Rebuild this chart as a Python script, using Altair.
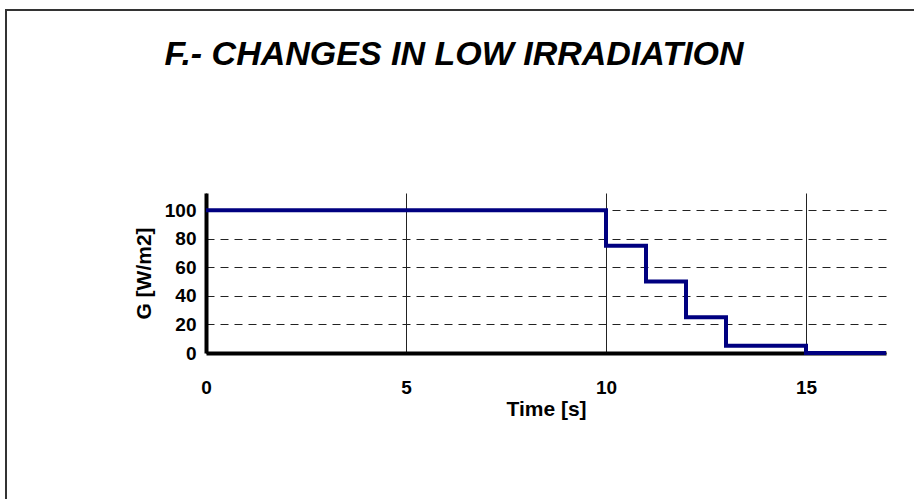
import altair as alt
import pandas as pd

# Step profile of irradiance
time_s = [0, 10, 11, 12, 13, 15, 17]
g_wm2 = [100, 75, 50, 25, 5, 0, 0]
x_ticks = [0, 5, 10, 15]
y_ticks = [0, 20, 40, 60, 80, 100]
title_text = ["F.- CHANGES IN LOW IRRADIATION"]

df = pd.DataFrame({"t": time_s, "g": g_wm2})
df_title = pd.DataFrame({"label": title_text})

FONT = "Liberation Sans"

line = alt.Chart(df).mark_line(
    interpolate="step-after", color="#000080", strokeWidth=4
).encode(
    x=alt.X("t:Q", scale=alt.Scale(domain=[0, 17], nice=False),
            axis=alt.Axis(values=x_ticks, title="Time [s]", format="d",
                          grid=True, gridColor="#222222", gridWidth=1,
                          domainColor="black", domainWidth=4, ticks=False,
                          labelPadding=25, titlePadding=1, labelFlush=False,
                          labelFontSize=19, labelFontWeight="bold",
                          titleFontSize=21, titleFontWeight="bold",
                          labelColor="black", titleColor="black",
                          labelFont=FONT, titleFont=FONT)),
    y=alt.Y("g:Q", scale=alt.Scale(domain=[0, 112], nice=False),
            axis=alt.Axis(values=y_ticks, title="G [W/m2]", format="d",
                          grid=True, gridColor="#222222", gridWidth=1,
                          gridDash=[8, 6],
                          domainColor="black", domainWidth=4, ticks=False,
                          labelPadding=10, titlePadding=10,
                          labelFontSize=19, labelFontWeight="bold",
                          titleFontSize=21, titleFontWeight="bold",
                          labelColor="black", titleColor="black",
                          labelFont=FONT, titleFont=FONT)),
)

title = alt.Chart(df_title).mark_text(
    font=FONT, fontSize=34, fontWeight="bold", fontStyle="italic",
    color="black", align="center", baseline="alphabetic"
).encode(
    text="label:N", x=alt.value(248), y=alt.value(-128)
)

border_left = alt.Chart(df).mark_rule(color="#333333", strokeWidth=2).encode(
    x=alt.value(-200), y=alt.value(-184), y2=alt.value(320)
)
border_top = alt.Chart(df).mark_rule(color="#333333", strokeWidth=2).encode(
    x=alt.value(-201), x2=alt.value(720), y=alt.value(-183)
)

chart = alt.layer(line, title, border_left, border_top).properties(
    width=680,
    height=160,
    padding={"left": 206, "top": 193, "right": 28, "bottom": 146},
    autosize=alt.AutoSizeParams(type="none"),
    background="white",
).configure_view(stroke=None)

chart.save("out.html", embed_options={"renderer": "svg", "actions": False})
